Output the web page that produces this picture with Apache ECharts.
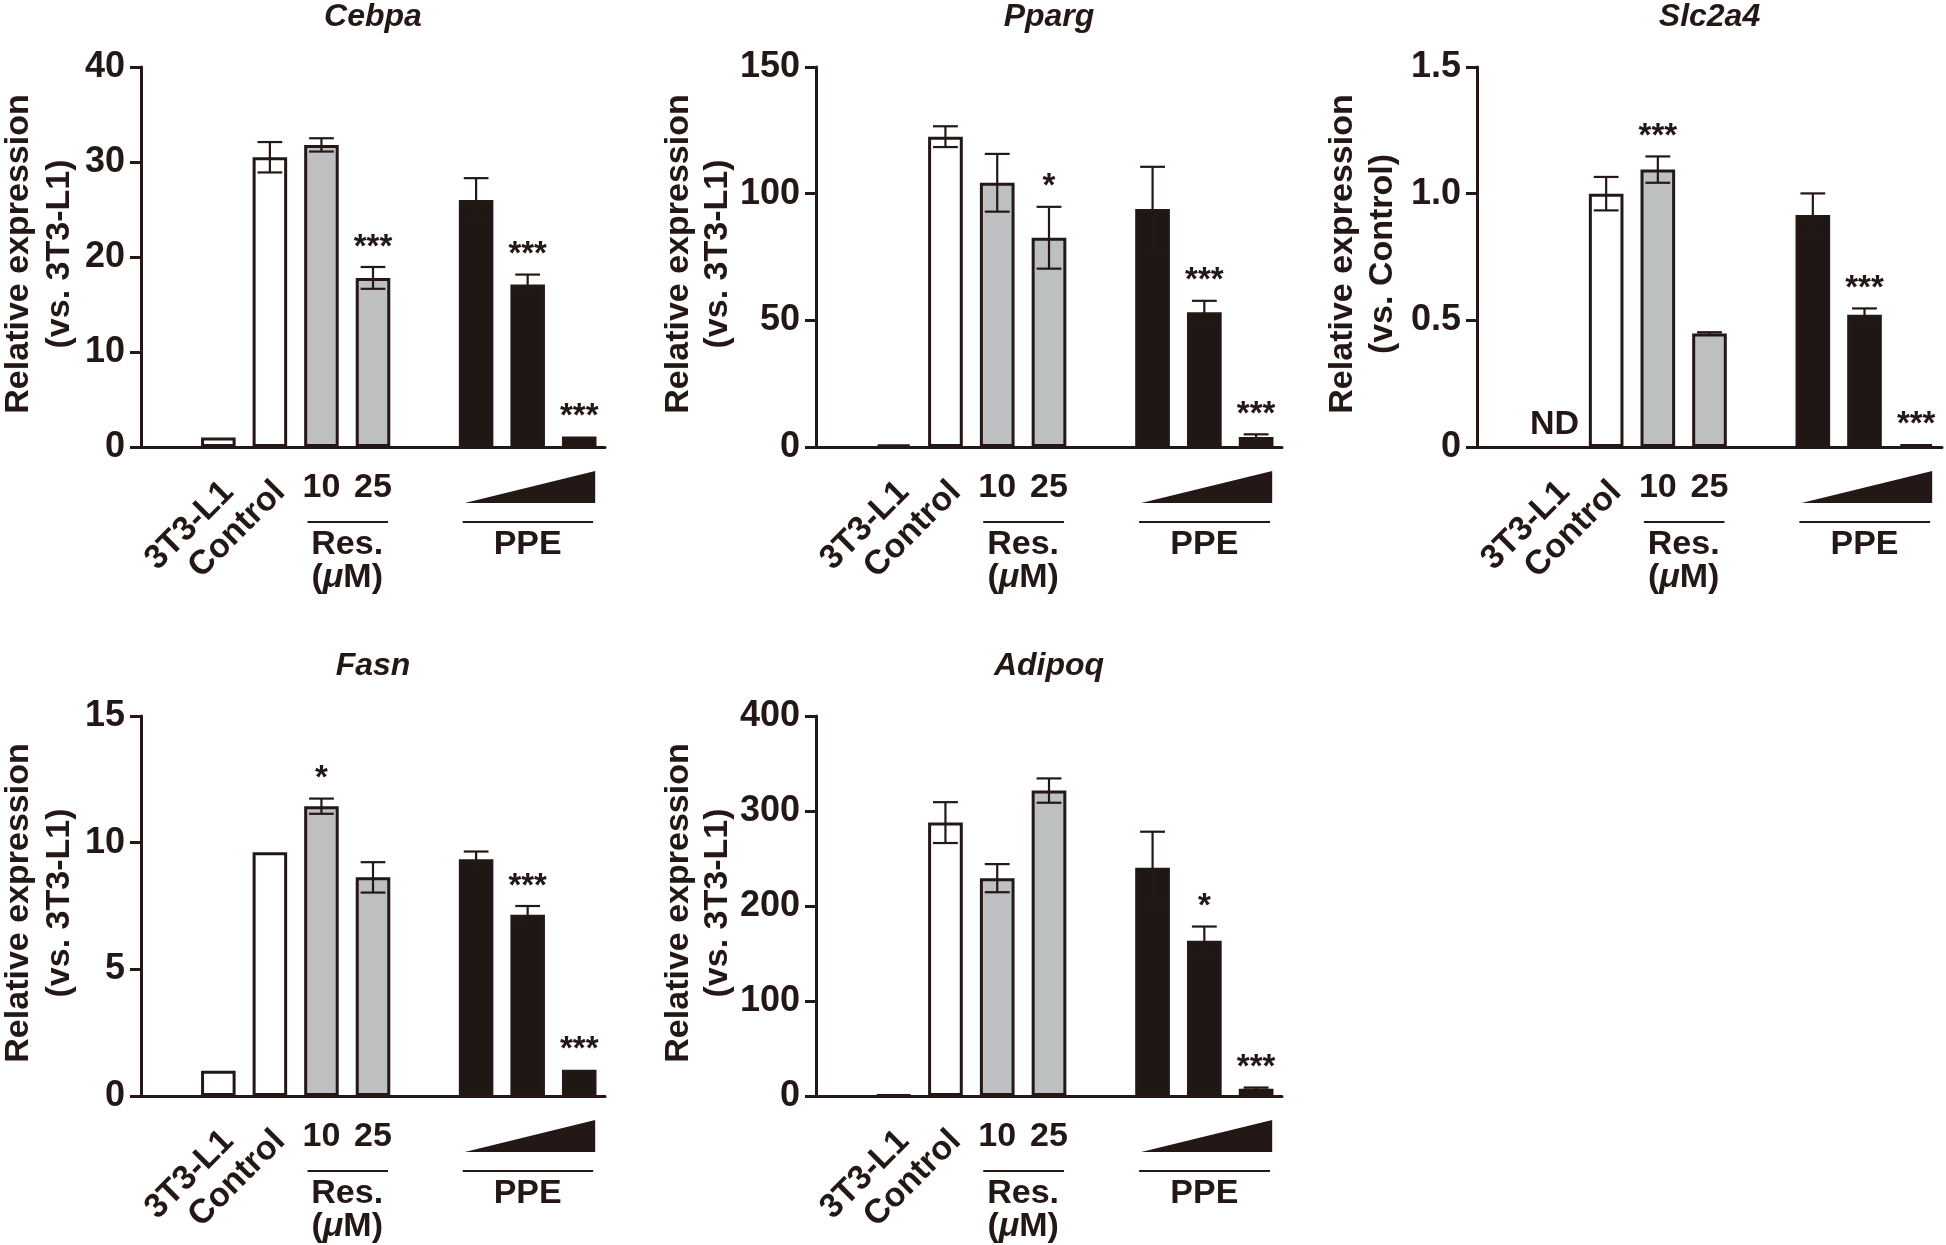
<!DOCTYPE html>
<html>
<head>
<meta charset="utf-8">
<script src="https://cdn.jsdelivr.net/npm/echarts@6/dist/echarts.min.js"></script>
<style>
  html, body { margin: 0; padding: 0; background: #fff; }
  #chart { width: 1946px; height: 1245px; }
</style>
</head>
<body>
<div id="chart"></div>
<script>
// ---------- DATA ----------
// category slots (pad slots are empty spacers)
const catKeys = ['pad1', '3T3-L1', 'Control', 'Res10', 'Res25', 'pad2', 'PPE1', 'PPE2', 'PPE3'];
const catGroup = ['none', 'white', 'white', 'gray', 'gray', 'none', 'black', 'black', 'black'];
const rotatedLabels = ['3T3-L1', 'Control'];
const doseLabels = ['10', '25'];
const resLabel = 'Res.';
const unitLabel = '({i|\u03bc}M)';
const ppeLabel = 'PPE';

const panelTitles = ['Cebpa', 'Pparg', 'Slc2a4', 'Fasn', 'Adipoq'];
const yLabel1 = 'Relative expression';
const yLabel2 = ['(vs. 3T3-L1)', '(vs. 3T3-L1)', '(vs. Control)', '(vs. 3T3-L1)', '(vs. 3T3-L1)'];
const yMax = [40, 150, 1.5, 15, 400];
const yInterval = [10, 50, 0.5, 5, 100];

const cebpaMean = [null, 1.0, 30.5, 31.8, 17.8, null, 26.0, 17.1, 1.1];
const cebpaSem  = [null, 0, 1.6, 0.7, 1.15, null, 2.3, 1.05, 0];
const cebpaSig  = ['', '', '', '', '***', '', '', '***', '***'];

const ppargMean = [null, 1.0, 122.5, 104.3, 82.6, null, 93.9, 53.2, 3.9];
const ppargSem  = [null, 0, 4.1, 11.4, 12.2, null, 16.7, 4.5, 1.1];
const ppargSig  = ['', '', '', '', '*', '', '', '***', '***'];

const slcMean = [null, null, 1.0, 1.095, 0.448, null, 0.916, 0.522, 0.011];
const slcSem  = [null, null, 0.066, 0.052, 0.005, null, 0.085, 0.025, 0];
const slcSig  = ['', '', '', '***', '', '', '', '***', '***'];
const slcNote = ['', 'ND', '', '', '', '', '', '', ''];

const fasnMean = [null, 1.0, 9.62, 11.44, 8.63, null, 9.35, 7.15, 1.04];
const fasnSem  = [null, 0, 0, 0.3, 0.6, null, 0.3, 0.35, 0];
const fasnSig  = ['', '', '', '*', '', '', '', '***', '***'];

const adipoqMean = [null, 1.0, 287.8, 229.3, 321.5, null, 240.2, 163.4, 7.7];
const adipoqSem  = [null, 0, 21.5, 14.8, 12.8, null, 38.0, 15.0, 1.2];
const adipoqSig  = ['', '', '', '', '', '', '', '*', '***'];

const means = [cebpaMean, ppargMean, slcMean, fasnMean, adipoqMean];
const sems = [cebpaSem, ppargSem, slcSem, fasnSem, adipoqSem];
const sigs = [cebpaSig, ppargSig, slcSig, fasnSig, adipoqSig];
const notes = [[], [], slcNote, [], []];

// ---------- STYLE / LAYOUT ----------
const FONT = '"Liberation Sans", Arial, Helvetica, sans-serif';
const INK = '#231815';
const FILL = { white: '#ffffff', gray: '#bebfc1', black: '#1f1714', none: 'transparent' };
const boxes = [
  { left: 141, top: 67, width: 464, lab1: 122, lab2: 81 },
  { left: 816, top: 67, width: 466, lab1: 137, lab2: 98 },
  { left: 1477, top: 67, width: 465, lab1: 134, lab2: 94 },
  { left: 141, top: 716, width: 464, lab1: 122, lab2: 81 },
  { left: 816, top: 716, width: 466, lab1: 137, lab2: 98 }
];
const PLOT_H = 380;

const chart = echarts.init(document.getElementById('chart'), null, { renderer: 'canvas' });

const series = [];
panelTitles.forEach((t, g) => {
  series.push({
    type: 'bar',
    xAxisIndex: g, yAxisIndex: g,
    barWidth: '67%',
    z: 2,
    itemStyle: { borderColor: INK, borderWidth: 3 },
    data: means[g].map((v, k) => v == null ? '-' : { value: v, itemStyle: { color: FILL[catGroup[k]] } })
  });
  const sg = sigs[g];
  series.push({
    type: 'custom',
    xAxisIndex: g, yAxisIndex: g,
    z: 5,
    clip: false,
    encode: { x: 0, y: 1 },
    data: means[g].map((v, k) => v == null ? null : [k, v, sems[g][k]]).filter(Boolean),
    renderItem: function (params, api) {
      const i = api.value(0), m = api.value(1), s = api.value(2);
      const base = api.coord([i, m]);
      const slot = api.size([1, 0])[0];
      const hw = slot * 0.24;
      const children = [];
      let topY = base[1];
      if (s > 0) {
        const t = api.coord([i, m + s]);
        const b = api.coord([i, m - s]);
        topY = t[1];
        const ls = { stroke: INK, lineWidth: 2.2 };
        children.push({ type: 'line', shape: { x1: base[0], y1: t[1], x2: base[0], y2: b[1] }, style: ls });
        children.push({ type: 'line', shape: { x1: base[0] - hw, y1: t[1], x2: base[0] + hw, y2: t[1] }, style: ls });
        children.push({ type: 'line', shape: { x1: base[0] - hw, y1: b[1], x2: base[0] + hw, y2: b[1] }, style: ls });
      }
      const txt = sg[i];
      if (txt) {
        children.push({
          type: 'text',
          style: { text: txt, x: base[0], y: topY - 3, align: 'center', verticalAlign: 'bottom',
                   font: 'bold 33px ' + FONT, fill: INK }
        });
      }
      return { type: 'group', children: children };
    }
  });
});

const option = {
  animation: false,
  backgroundColor: '#ffffff',
  grid: boxes.map(b => ({ left: b.left, top: b.top, width: b.width, height: PLOT_H, containLabel: false })),
  xAxis: boxes.map((b, g) => ({
    type: 'category', gridIndex: g, data: catKeys, boundaryGap: true,
    axisLine: { lineStyle: { color: INK, width: 3 } },
    axisTick: { alignWithLabel: true, interval: (idx, val) => String(val).indexOf('pad') !== 0, length: 12,
                lineStyle: { color: INK, width: 3 } },
    axisLabel: { show: false },
    splitLine: { show: false }
  })),
  yAxis: boxes.map((b, g) => ({
    type: 'value', gridIndex: g, min: 0, max: yMax[g], interval: yInterval[g],
    axisLine: { show: true, lineStyle: { color: INK, width: 3 } },
    axisTick: { show: true, length: 11, lineStyle: { color: INK, width: 3 } },
    axisLabel: {
      fontFamily: FONT, fontWeight: 'bold', fontSize: 36, color: INK, margin: 16,
      formatter: v => (v === 0 ? '0' : (yInterval[g] < 1 ? v.toFixed(1) : String(v)))
    },
    splitLine: { show: false }
  })),
  series: series
};
chart.setOption(option);

// ---------- ANNOTATIONS (positioned from the axes) ----------
const graphics = [];
const txtStyle = (size, extra) => Object.assign({ font: 'bold ' + size + 'px ' + FONT, fill: INK }, extra || {});
panelTitles.forEach((title, g) => {
  const px = key => chart.convertToPixel({ xAxisIndex: g, yAxisIndex: g }, [key, 0]);
  const p3 = px('3T3-L1'), pc = px('Control'), p10 = px('Res10'), p25 = px('Res25');
  const q1 = px('PPE1'), q2 = px('PPE2'), q3 = px('PPE3');
  const slot = pc[0] - p3[0];
  const y0 = p3[1];
  const b = boxes[g];
  const midY = b.top + PLOT_H / 2 - 3;

  graphics.push({ type: 'text', x: b.left + b.width / 2, y: b.top - 50,
    style: txtStyle(32, { text: title, font: 'italic bold 32px ' + FONT, align: 'center', verticalAlign: 'middle' }) });

  // y-axis title (two rotated lines)
  graphics.push({ type: 'text', x: b.left - b.lab1, y: midY, rotation: Math.PI / 2,
    style: txtStyle(34, { text: yLabel1, align: 'center', verticalAlign: 'middle' }) });
  graphics.push({ type: 'text', x: b.left - b.lab2, y: midY, rotation: Math.PI / 2,
    style: txtStyle(34, { text: yLabel2[g], align: 'center', verticalAlign: 'middle' }) });

  [p3, pc].forEach((p, k) => {
    graphics.push({ type: 'text', x: p[0] + 10, y: y0 + 40, rotation: Math.PI / 4,
      style: txtStyle(34, { text: rotatedLabels[k], align: 'right', verticalAlign: 'middle' }) });
  });
  [p10, p25].forEach((p, k) => {
    graphics.push({ type: 'text', x: p[0], y: y0 + 41,
      style: txtStyle(34, { text: doseLabels[k], align: 'center', verticalAlign: 'middle' }) });
  });
  graphics.push({ type: 'line', shape: { x1: p10[0] - 0.27 * slot, y1: y0 + 75, x2: p25[0] + 0.29 * slot, y2: y0 + 75 },
    style: { stroke: INK, lineWidth: 2 } });
  const resX = (p10[0] + p25[0]) / 2;
  graphics.push({ type: 'text', x: resX, y: y0 + 98,
    style: txtStyle(34, { text: resLabel, align: 'center', verticalAlign: 'middle' }) });
  graphics.push({ type: 'text', x: resX, y: y0 + 131,
    style: txtStyle(34, { text: unitLabel, align: 'center', verticalAlign: 'middle',
      rich: { i: { fontStyle: 'italic', fontWeight: 'bold', fontSize: 34, fontFamily: FONT, fill: INK } } }) });

  graphics.push({ type: 'polygon',
    shape: { points: [[q1[0] - 0.22 * slot, y0 + 56], [q3[0] + 0.31 * slot, y0 + 24], [q3[0] + 0.31 * slot, y0 + 56]] },
    style: { fill: INK } });
  graphics.push({ type: 'line', shape: { x1: q1[0] - 0.26 * slot, y1: y0 + 75, x2: q3[0] + 0.27 * slot, y2: y0 + 75 },
    style: { stroke: INK, lineWidth: 2 } });
  graphics.push({ type: 'text', x: q2[0], y: y0 + 98,
    style: txtStyle(34, { text: ppeLabel, align: 'center', verticalAlign: 'middle' }) });

  (notes[g] || []).forEach((n, k) => {
    if (!n) return;
    const p = px(catKeys[k]);
    graphics.push({ type: 'text', x: p[0], y: y0 - 5,
      style: txtStyle(34, { text: n, align: 'center', verticalAlign: 'bottom' }) });
  });
});
chart.setOption({ graphic: graphics });
</script>
</body>
</html>
